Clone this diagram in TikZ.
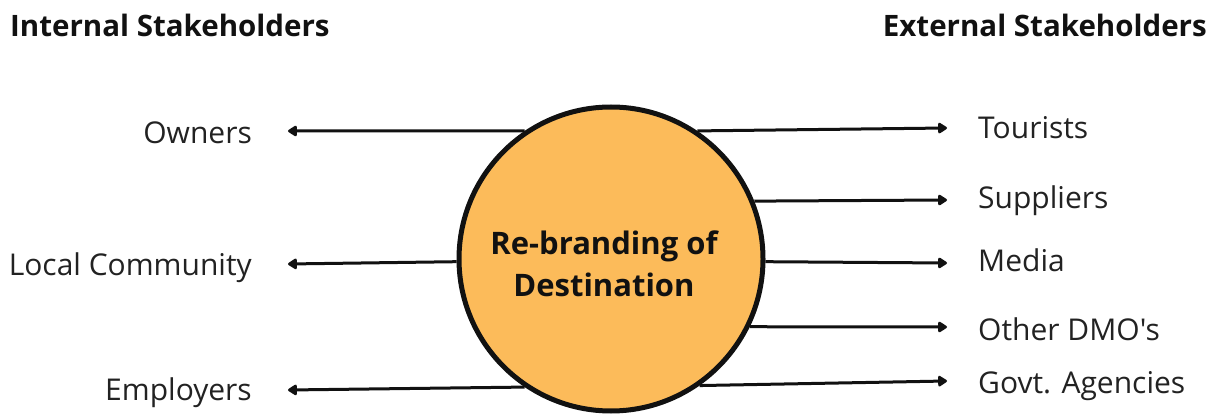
\documentclass[tikz,border=0pt]{standalone}
\usepackage{fontspec}
\setmainfont{Open Sans}[Ligatures=TeXOff]
\usetikzlibrary{arrows.meta}
\pgfdeclarelayer{background}
\pgfsetlayers{background,main}
\definecolor{hub}{HTML}{FCBB5A}
\definecolor{ink}{HTML}{111111}
\definecolor{txt}{HTML}{222222}
\tikzset{
  heading/.style={font=\bfseries\fontsize{29.5}{34}\selectfont, text=ink, inner sep=0},
  lbl/.style={font=\fontsize{30}{36}\selectfont, text=txt, inner sep=0},
  link/.style={line width=3pt, draw=ink, -{Triangle[length=10pt,width=12pt,round]}},
  hubnode/.style={circle, fill=hub, draw=ink, line width=5pt, minimum size=304pt, inner sep=0},
  hubtext/.style={align=center, inner sep=0, font=\bfseries\fontsize{31}{42}\selectfont, text=ink}
}
\begin{document}
\begin{tikzpicture}[x=1pt,y=-1pt]
\useasboundingbox (0,0) rectangle (1219,414);

% headings
\node[heading, anchor=base west] (inth) at (10,37) {Internal Stakeholders};
\node[heading, anchor=base east] (exth) at (1207,37) {External Stakeholders};

% central circle and its caption
\node[hubnode] (c) at (611,259) {};
\node[hubtext] (ctext) at (604,264) {Re-branding of\\Destination};

% left labels
\node[lbl, anchor=base east] (owners) at (252,144) {Owners};
\node[lbl, anchor=base east] (local) at (252,276) {Local Community};
\node[lbl, anchor=base east] (empl) at (252,400) {Employers};

% right labels
\node[lbl, anchor=base west] (tour) at (978,139) {Tourists};
\node[lbl, anchor=base west] (supp) at (978,209) {Suppliers};
\node[lbl, anchor=base west] (media) at (978,272) {Media};
\node[lbl, anchor=base west] (dmo) at (978,341) {Other DMO's};
\node[lbl, anchor=base west] (govt) at (978,393) {Govt. Agencies};

% arrow ends
\coordinate (e1) at (288,131);
\coordinate (e2) at (288,264);
\coordinate (e3) at (288,390);
\coordinate (e4) at (947,128);
\coordinate (e5) at (947,200);
\coordinate (e6) at (947,263);
\coordinate (e7) at (947,327);
\coordinate (e8) at (947,381);

\begin{pgfonlayer}{background}
\draw[link] (c.124) -- (e1);
\draw[link] (c.181) -- (e2);
\draw[link] (c.236) -- (e3);
\draw[link] (c.56) -- (e4);
\draw[link] (c.22.6) -- (e5);
\draw[link] (c.-1.5) -- (e6);
\draw[link] (c.-26.2) -- (e7);
\draw[link] (c.-55.9) -- (e8);
\end{pgfonlayer}
\end{tikzpicture}
\end{document}
